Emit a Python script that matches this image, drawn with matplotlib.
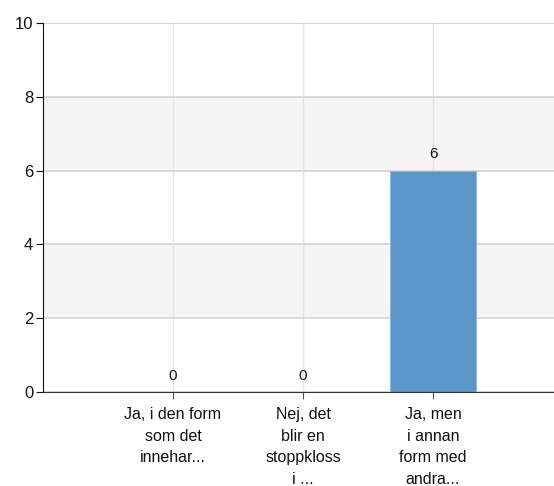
import matplotlib.pyplot as plt

plt.rcParams["font.family"] = ["Liberation Sans", "DejaVu Sans"]

categories = [
    "Ja, i den form\nsom det\ninnehar...",
    "Nej, det\nblir en\nstoppkloss\ni ...",
    "Ja, men\ni annan\nform med\nandra...",
]
values = [0, 0, 6]
y_ticks = [0, 2, 4, 6, 8, 10]

W, H = 554, 486
fig = plt.figure(figsize=(W / 100, H / 100), dpi=100)
# axes box in pixels: left 43, right 563 (past the edge), top 23, bottom 392
ax = fig.add_axes([43 / W, 1 - 392 / H, 520 / W, (392 - 23) / H])

positions = [1, 2, 3]
ax.set_xlim(0, 4)
ax.set_ylim(0, 10)

# alternating bands
for lo in range(0, 10, 2):
    if (lo // 2) % 2 == 1:
        ax.axhspan(lo, lo + 2, color="#f5f5f5", zorder=0, lw=0)

ax.set_yticks(y_ticks)
ax.set_xticks(positions)
ax.grid(axis="y", color="#d3d3d3", lw=1.2, zorder=1)
ax.grid(axis="x", color="#e3e3e3", lw=1.0, zorder=1)

ax.bar(positions, values, width=0.66, color="#5b96c8", edgecolor="#8fb8dc",
       linewidth=0.6, zorder=2)

for x, v in zip(positions, values):
    ax.text(x, v + 0.25, str(v), ha="center", va="bottom", fontsize=11,
            color="#111111", zorder=3)

ax.set_xticklabels(categories, fontsize=11.5, color="#111111", linespacing=1.55)
ax.set_yticklabels([str(t) for t in y_ticks], fontsize=12, color="#111111")

for side in ["top", "right"]:
    ax.spines[side].set_visible(False)
ax.spines["left"].set_color("#111111")
ax.spines["bottom"].set_color("#333333")
ax.tick_params(axis="y", length=5, color="#111111", pad=2)
ax.tick_params(axis="x", length=5, color="#555555", pad=6)

fig.savefig("out.png", dpi=100)
